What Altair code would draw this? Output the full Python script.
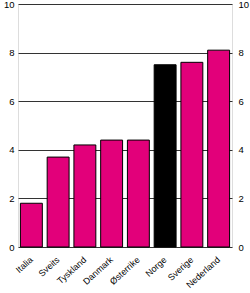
import altair as alt
import pandas as pd

countries = ["Italia", "Sveits", "Tyskland", "Danmark", "Østerrike", "Norge", "Sverige", "Nederland"]
values = [1.8, 3.7, 4.2, 4.4, 4.4, 7.5, 7.6, 8.1]
highlight = ["no", "no", "no", "no", "no", "yes", "no", "no"]
y_ticks = [0, 2, 4, 6, 8, 10]

df = pd.DataFrame({"land": countries, "verdi": values, "hl": highlight})

base = alt.Chart(df)

bars = base.mark_bar(stroke="black", strokeWidth=1).encode(
    x=alt.X("land:N", sort=countries, title=None,
            scale=alt.Scale(paddingInner=0.18, paddingOuter=0.09),
            axis=alt.Axis(labelAngle=-42, labelAlign="right", labelBaseline="middle",
                          labelPadding=11, ticks=False, domain=False, labelFontSize=9,
                          labelFont="Liberation Sans", labelColor="black")),
    y=alt.Y("verdi:Q", title=None,
            scale=alt.Scale(domain=[0, 10], nice=False),
            axis=alt.Axis(values=y_ticks, grid=True, gridColor="#333", gridWidth=1,
                          ticks=False, domain=False, labelFontSize=9.5, labelPadding=4,
                          labelFont="Liberation Sans", labelColor="black")),
    color=alt.Color("hl:N", scale=alt.Scale(domain=["no", "yes"], range=["#E2007A", "#000000"]),
                    legend=None),
)

right = base.mark_bar(opacity=0).encode(
    x=alt.X("land:N", sort=countries),
    y=alt.Y("verdi:Q", scale=alt.Scale(domain=[0, 10], nice=False),
            axis=alt.Axis(orient="right", values=y_ticks, grid=False, ticks=False, domain=False,
                          labelFontSize=9.5, labelPadding=6, title=None,
                          labelFont="Liberation Sans", labelColor="black")),
)

chart = alt.layer(bars, right).resolve_scale(y="independent").properties(
    width=214, height=243,
    autosize=alt.AutoSizeParams(type="none"),
    padding={"left": 18, "top": 4, "right": 18, "bottom": 46},
).configure_view(stroke=None).configure(background="white")

chart.save("out.html", embed_options={"renderer": "svg", "actions": False})
